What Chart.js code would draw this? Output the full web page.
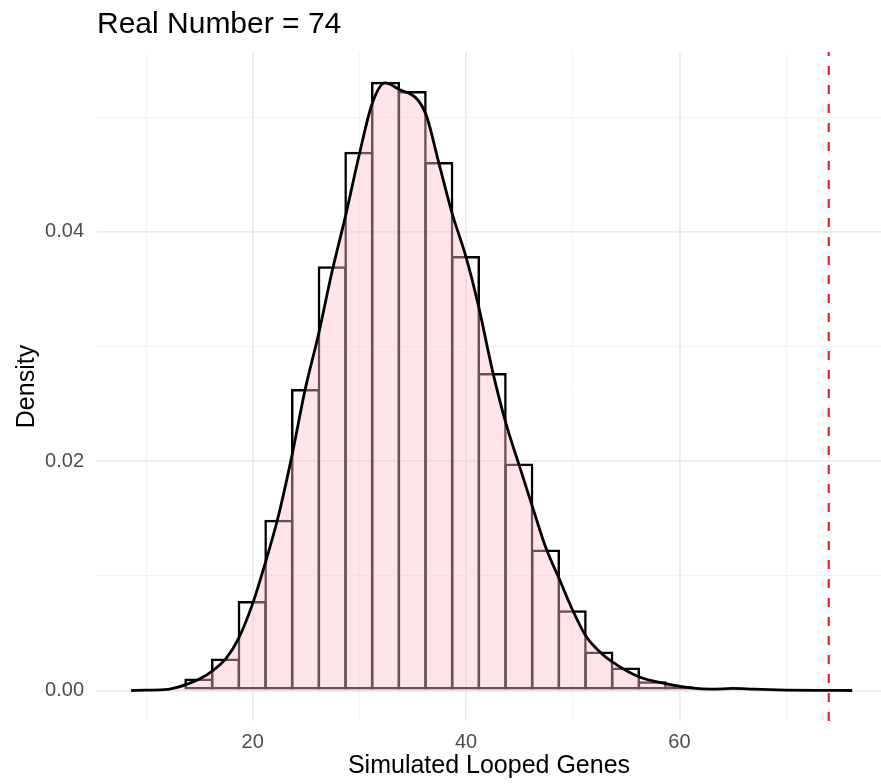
<!DOCTYPE html>
<html lang="en">
<head>
  <meta charset="UTF-8" />
  <title>Simulated Looped Genes</title>
  <style>
    html, body {
      margin: 0;
      padding: 0;
      background: #fff;
    }
    #wrap {
      width: 881px;
      height: 784px;
    }
  </style>
</head>
<body>
  <div id="wrap"><canvas id="histChart" width="881" height="784"></canvas></div>

  <script src="https://cdn.jsdelivr.net/npm/chart.js"></script>
  <script>
    // histogram bins (width 2.5), density scaled
    const binCenters = [14.95, 17.45, 19.95, 22.45, 24.95, 27.45, 29.95, 32.45, 34.95, 37.45,
                        39.95, 42.45, 44.95, 47.45, 49.95, 52.45, 54.95, 57.45, 59.95];
    const binDensity = [0.00105, 0.0028, 0.0078, 0.0149, 0.0263, 0.0370, 0.0470, 0.0531, 0.0523, 0.0461,
                        0.0379, 0.0277, 0.0198, 0.0123, 0.0070, 0.0034, 0.0020, 0.0008, 0.00038];

    // kernel density curve
    const kdeX = [8.6, 10, 12, 13, 14, 15.0, 16.2, 17.5, 18.7, 20.0, 21.2, 22.4, 23.7, 24.9, 26.2, 27.4,
                  28.7, 30.0, 31.2, 32.4, 33.8, 35.4, 36.3, 37.4, 38.7, 40.0, 41.2, 42.5, 43.8, 45.0,
                  46.3, 47.5, 48.8, 49.9, 51.2, 52.5, 53.7, 56.2, 58.7, 61.3, 63, 65, 67, 70, 73, 76.2];
    const kdeY = [0, 0.00003, 0.0001, 0.0003, 0.0006, 0.0010, 0.0017, 0.0028, 0.0046, 0.0076, 0.0112,
                  0.0152, 0.0206, 0.0262, 0.0312, 0.0364, 0.0414, 0.0468, 0.0512, 0.0530, 0.0524,
                  0.0516, 0.0501, 0.0462, 0.0416, 0.0378, 0.0334, 0.0278, 0.0231, 0.0196, 0.0158,
                  0.0124, 0.0096, 0.0072, 0.0048, 0.0034, 0.0025, 0.0012, 0.0006, 0.0002, 0.00012,
                  0.00018, 0.00012, 0.00004, 0.00001, 0];

    const realNumber = 74;

    const xTicks = [10, 20, 30, 40, 50, 60, 70];
    const xLabels = [20, 40, 60];
    const yTicks = [0, 0.01, 0.02, 0.03, 0.04, 0.05];
    const yLabels = [0, 0.02, 0.04];

    const X_MIN = 5.4, X_MAX = 78.9;
    const Y_MIN = -0.00266, Y_MAX = 0.0557;

    const FONT = '"Liberation Sans", Arial, Helvetica, sans-serif';

    const isMajorX = v => xLabels.includes(v);
    const isMajorY = v => yLabels.some(l => Math.abs(l - v) < 1e-9);

    // ggplot-style title, left aligned to the panel
    const plotTitle = {
      id: 'plotTitle',
      afterDraw(chart) {
        const c = chart.ctx;
        c.save();
        c.font = '30px ' + FONT;
        c.fillStyle = '#000';
        c.textBaseline = 'alphabetic';
        c.textAlign = 'left';
        c.fillText('Real Number = ' + realNumber, chart.chartArea.left, 33);
        c.restore();
      }
    };

    const ctx = document.getElementById('histChart').getContext('2d');
    new Chart(ctx, {
      type: 'bar',
      data: {
        datasets: [
          {
            type: 'line',
            label: 'real',
            data: [{ x: realNumber, y: Y_MIN }, { x: realNumber, y: Y_MAX }],
            borderColor: '#F01E1E',
            borderWidth: 2.2,
            borderDash: [9, 10],
            pointRadius: 0,
            fill: false,
            order: 1
          },
          {
            type: 'line',
            label: 'density',
            data: kdeX.map((x, i) => ({ x: x, y: kdeY[i] })),
            borderColor: '#000',
            borderWidth: 2.8,
            backgroundColor: 'rgba(255, 192, 203, 0.42)',
            fill: 'origin',
            pointRadius: 0,
            cubicInterpolationMode: 'monotone',
            order: 2
          },
          {
            label: 'hist',
            data: binCenters.map((x, i) => ({ x: x, y: binDensity[i] })),
            backgroundColor: 'rgba(255,255,255,0)',
            borderColor: '#000',
            borderWidth: 2.5,
            borderSkipped: false,
            barPercentage: 1.09,
            categoryPercentage: 1,
            order: 3
          }
        ]
      },
      options: {
        responsive: false,
        animation: false,
        layout: { padding: { top: 52, left: 0, right: 0, bottom: 0 } },
        plugins: {
          legend: { display: false },
          tooltip: { enabled: false }
        },
        scales: {
          x: {
            type: 'linear',
            min: X_MIN,
            max: X_MAX,
            offset: false,
            afterBuildTicks: axis => { axis.ticks = xTicks.map(v => ({ value: v })); },
            afterFit: axis => { axis.height = 63; },
            border: { display: false },
            grid: {
              offset: false,
              drawTicks: false,
              color: c => isMajorX(c.tick.value) ? '#EBEBEB' : '#F3F3F3',
              lineWidth: c => isMajorX(c.tick.value) ? 1.8 : 1
            },
            ticks: {
              padding: 9,
              color: '#4D4D4D',
              font: { family: FONT, size: 20 },
              maxRotation: 0,
              autoSkip: false,
              callback: v => isMajorX(v) ? String(v) : ''
            },
            title: {
              display: true,
              text: 'Simulated Looped Genes',
              color: '#000',
              font: { family: FONT, size: 25 },
              padding: { top: 0, bottom: 3 }
            }
          },
          y: {
            min: Y_MIN,
            max: Y_MAX,
            afterBuildTicks: axis => { axis.ticks = yTicks.map(v => ({ value: v })); },
            afterFit: axis => { axis.width = 97; },
            border: { display: false },
            grid: {
              drawTicks: false,
              color: c => isMajorY(c.tick.value) ? '#EBEBEB' : '#F3F3F3',
              lineWidth: c => isMajorY(c.tick.value) ? 1.8 : 1
            },
            ticks: {
              padding: 13,
              color: '#4D4D4D',
              font: { family: FONT, size: 20 },
              autoSkip: false,
              callback: v => isMajorY(v) ? v.toFixed(2) : ''
            },
            title: {
              display: true,
              text: 'Density',
              color: '#000',
              font: { family: FONT, size: 25 },
              padding: { top: 12, bottom: 0 }
            }
          }
        }
      },
      plugins: [plotTitle]
    });
  </script>
</body>
</html>
